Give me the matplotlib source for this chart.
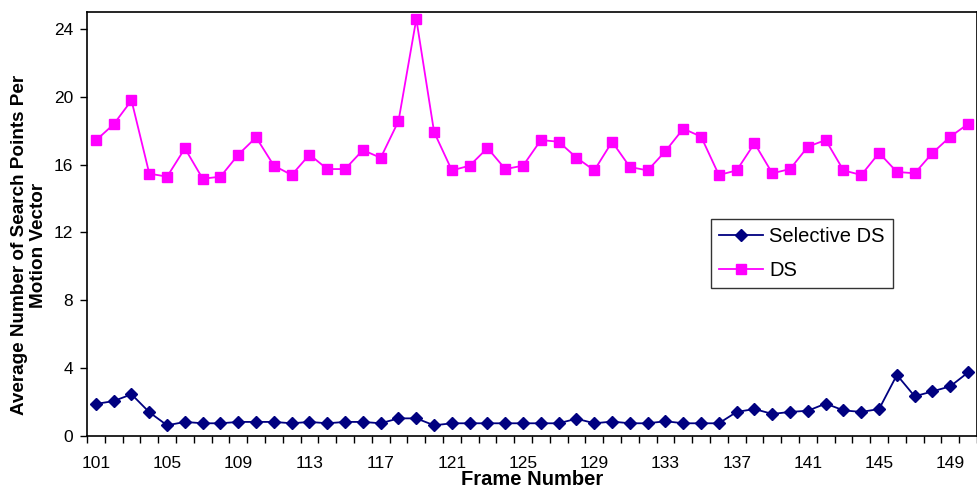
import matplotlib
matplotlib.use("Agg")
import matplotlib.pyplot as plt
import numpy as np

plt.rcParams["font.family"] = ["Liberation Sans", "DejaVu Sans"]

frames = list(range(101, 151))

selective_ds = [1.89, 2.06, 2.46, 1.40, 0.63, 0.83, 0.75, 0.75, 0.83, 0.83,
                0.83, 0.75, 0.83, 0.75, 0.83, 0.83, 0.75, 1.04, 1.04, 0.63,
                0.75, 0.75, 0.75, 0.75, 0.75, 0.75, 0.75, 1.02, 0.75, 0.85,
                0.75, 0.75, 0.87, 0.75, 0.75, 0.75, 1.42, 1.59, 1.30, 1.42,
                1.49, 1.91, 1.51, 1.42, 1.59, 3.60, 2.34, 2.63, 2.93, 3.75]

ds = [17.43, 18.38, 19.79, 15.47, 15.29, 16.96, 15.17, 15.29, 16.59, 17.61,
      15.94, 15.39, 16.59, 15.74, 15.74, 16.86, 16.40, 18.57, 24.59, 17.92,
      15.66, 15.94, 16.98, 15.74, 15.94, 17.45, 17.35, 16.41, 15.66, 17.35,
      15.86, 15.66, 16.80, 18.12, 17.65, 15.39, 15.66, 17.26, 15.49, 15.74,
      17.06, 17.45, 15.66, 15.39, 16.69, 15.57, 15.49, 16.69, 17.65, 18.40]

y_ticks = [0, 4, 8, 12, 16, 20, 24]
x_labels = list(range(101, 151, 4))

fig = plt.figure(figsize=(9.78, 4.90), dpi=100)
ax = fig.add_axes([87 / 978, 54 / 490, 890 / 978, 424 / 490])

ax.plot(frames, selective_ds, color="#000080", lw=1.3, marker="D",
        markersize=6.5, label="Selective DS", clip_on=False, zorder=3)
ax.plot(frames, ds, color="#FF00FF", lw=1.3, marker="s",
        markersize=7, label="DS", clip_on=False, zorder=3)

ax.set_xlim(100.5, 150.5)
ax.set_ylim(0, 25)

# category boundaries carry the tick marks, labels sit on every 4th category
ax.set_xticks(np.arange(100.5, 151, 1.0))
ax.set_xticklabels([])
ax.tick_params(axis="x", direction="out", length=5, width=1, color="black")
for f in x_labels:
    ax.text(f, -1.2, str(f), ha="center", va="top", fontsize=12.5,
            transform=ax.transData)

ax.set_yticks(y_ticks)
ax.set_yticklabels([str(v) for v in y_ticks], fontsize=12.5)
ax.tick_params(axis="y", direction="out", length=5, width=1, pad=5)

for s in ax.spines.values():
    s.set_color("black")
    s.set_linewidth(1.2)

ax.text(0.5, -0.08, "Frame Number", transform=ax.transAxes, ha="center",
        va="top", fontsize=14.5, fontweight="bold")
fig.text(29 / 978, 245 / 490, "Average Number of Search Points Per\nMotion Vector",
         rotation=90, ha="center", va="center", fontsize=13.6,
         fontweight="bold", linespacing=1.1)

leg = ax.legend(loc="upper left", bbox_to_anchor=((711 - 87) / 890, (436 - 219) / 424),
                borderaxespad=0, fontsize=14.5, frameon=True, fancybox=False,
                edgecolor="black", handlelength=2.2, borderpad=0.4,
                labelspacing=0.75, handletextpad=0.3)
leg.get_frame().set_linewidth(1.0)

fig.savefig("out.png", dpi=100)
